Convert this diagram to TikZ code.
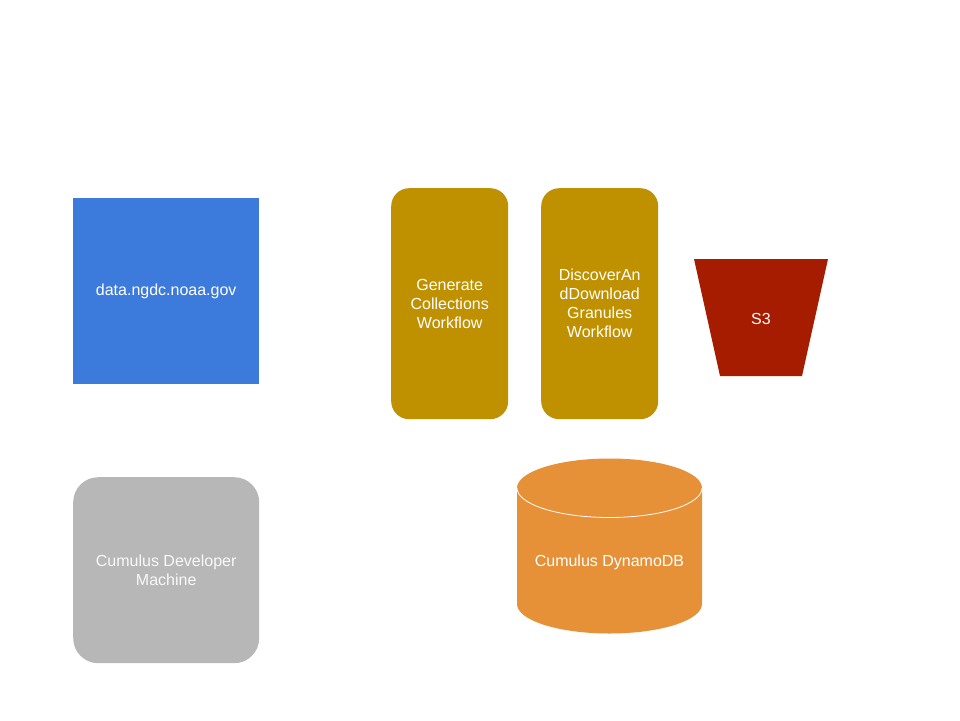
\documentclass[tikz,border=0pt]{standalone}
\usepackage{fontspec}
\setmainfont{Liberation Sans}
\definecolor{cblue}{HTML}{3C7ADB}
\definecolor{cgold}{HTML}{BF9000}
\definecolor{cred}{HTML}{A61C00}
\definecolor{corange}{HTML}{E69138}
\definecolor{cgrey}{HTML}{B7B7B7}
\begin{document}
\begin{tikzpicture}[x=1pt,y=-1pt,
  lbl/.style={text=white,font=\fontsize{16}{19}\selectfont,align=center,inner sep=0pt},
  box/.style={lbl,minimum width=186pt,minimum height=186pt,anchor=north west},
  wf/.style={lbl,fill=cgold,rounded corners=18pt,minimum width=117pt,minimum height=231pt,anchor=north west}]
\useasboundingbox (0,0) rectangle (960,720);
\node[box,fill=cblue] (ngdc) at (73,198) {data.ngdc.noaa.gov};
\node[box,fill=cgrey,rounded corners=25pt,text=white!92!cgrey] (dev) at (73,477) {Cumulus Developer\\Machine};
\node[wf] (gen) at (391,188) {Generate\\Collections\\Workflow};
\node[wf] (disc) at (541,188) {DiscoverAn\\dDownload\\Granules\\Workflow};
% S3 trapezoid
\fill[cred] (694,259) -- (828,259) -- (802,376) -- (720,376) -- cycle;
\node[lbl] (s3) at (761,319) {S3};
% cylinder
\fill[corange] (517,488) -- (517,604) arc[start angle=180,end angle=360,x radius=92.5pt,y radius=29.5pt]
  -- (702,488) arc[start angle=0,end angle=180,x radius=92.5pt,y radius=29.5pt] -- cycle;
\draw[white,line width=0.8pt] (517,488) arc[start angle=180,end angle=360,x radius=92.5pt,y radius=29.5pt];
\node[lbl] (ddb) at (609.5,562) {Cumulus DynamoDB};
\end{tikzpicture}
\end{document}
